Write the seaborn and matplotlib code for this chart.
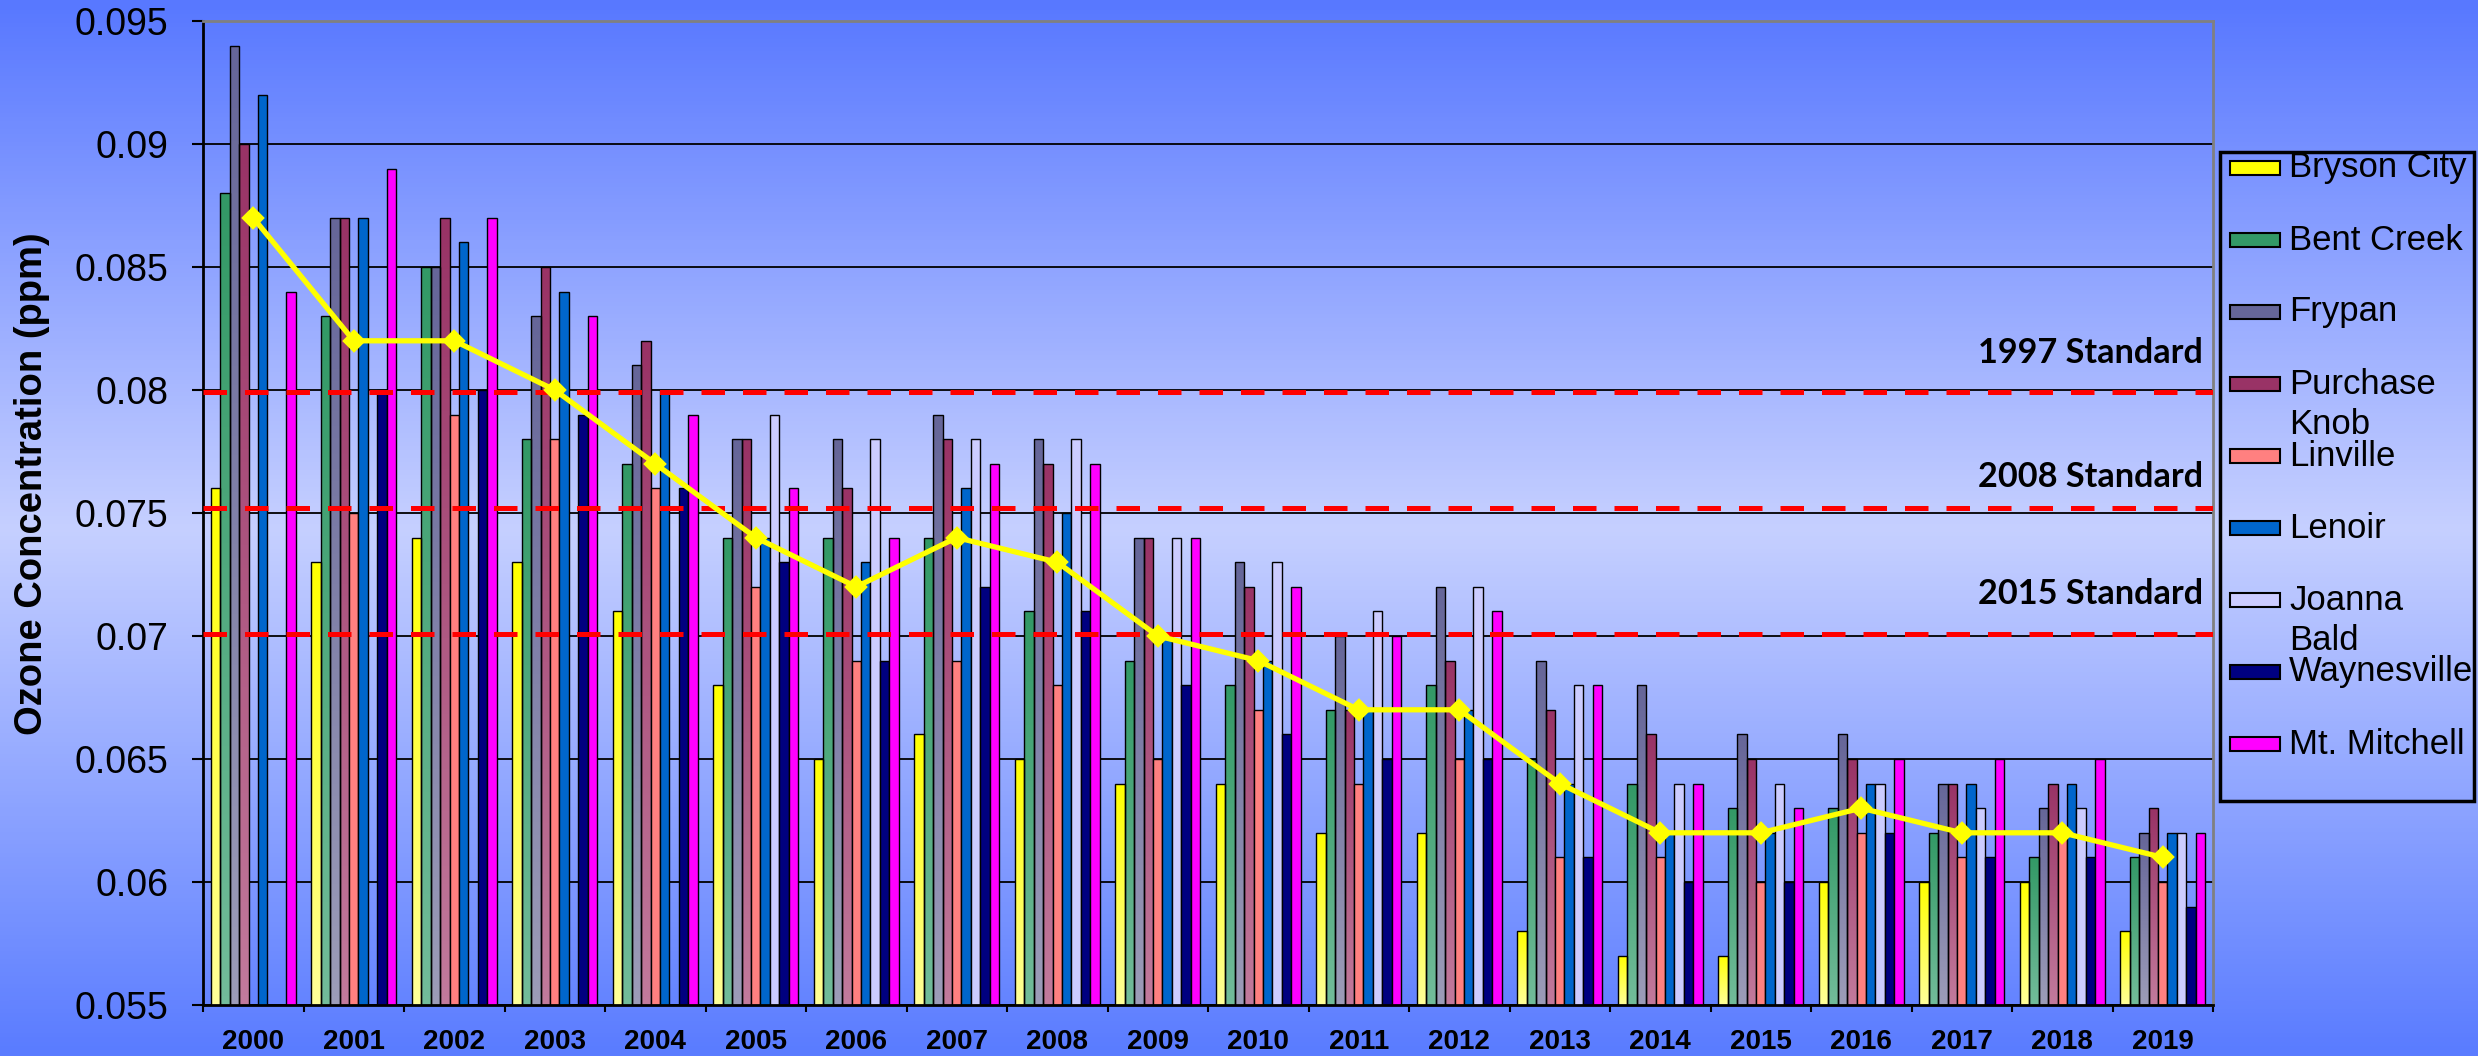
import numpy as np
import pandas as pd
import matplotlib
matplotlib.use('Agg')
import matplotlib.pyplot as plt
from matplotlib.colors import LinearSegmentedColormap
from matplotlib.patches import Rectangle
import seaborn as sns

nan = np.nan

# Annual ozone design values (ppm) by monitoring site
years = [str(y) for y in range(2000, 2020)]
sites = ['Bryson City', 'Bent Creek', 'Frypan', 'Purchase Knob', 'Linville',
         'Lenoir', 'Joanna Bald', 'Waynesville', 'Mt. Mitchell']
legend_labels = ['Bryson City', 'Bent Creek', 'Frypan', 'Purchase\nKnob', 'Linville',
                 'Lenoir', 'Joanna\nBald', 'Waynesville', 'Mt. Mitchell']

bryson_city = [0.076, 0.073, 0.074, 0.073, 0.071, 0.068, 0.065, 0.066, 0.065, 0.064,
               0.064, 0.062, 0.062, 0.058, 0.057, 0.057, 0.060, 0.060, 0.060, 0.058]
bent_creek = [0.088, 0.083, 0.085, 0.078, 0.077, 0.074, 0.074, 0.074, 0.071, 0.069,
              0.068, 0.067, 0.068, 0.065, 0.064, 0.063, 0.063, 0.062, 0.061, 0.061]
frypan = [0.094, 0.087, 0.085, 0.083, 0.081, 0.078, 0.078, 0.079, 0.078, 0.074,
          0.073, 0.070, 0.072, 0.069, 0.068, 0.066, 0.066, 0.064, 0.063, 0.062]
purchase_knob = [0.090, 0.087, 0.087, 0.085, 0.082, 0.078, 0.076, 0.078, 0.077, 0.074,
                 0.072, 0.067, 0.069, 0.067, 0.066, 0.065, 0.065, 0.064, 0.064, 0.063]
linville = [nan, 0.075, 0.079, 0.078, 0.076, 0.072, 0.069, 0.069, 0.068, 0.065,
            0.067, 0.064, 0.065, 0.061, 0.061, 0.060, 0.062, 0.061, 0.062, 0.060]
lenoir = [0.092, 0.087, 0.086, 0.084, 0.080, 0.074, 0.073, 0.076, 0.075, 0.070,
          0.069, 0.067, 0.067, 0.064, 0.062, 0.062, 0.064, 0.064, 0.064, 0.062]
joanna_bald = [nan, nan, nan, nan, nan, 0.079, 0.078, 0.078, 0.078, 0.074,
               0.073, 0.071, 0.072, 0.068, 0.064, 0.064, 0.064, 0.063, 0.063, 0.062]
waynesville = [nan, 0.080, 0.080, 0.079, 0.076, 0.073, 0.069, 0.072, 0.071, 0.068,
               0.066, 0.065, 0.065, 0.061, 0.060, 0.060, 0.062, 0.061, 0.061, 0.059]
mt_mitchell = [0.084, 0.089, 0.087, 0.083, 0.079, 0.076, 0.074, 0.077, 0.077, 0.074,
               0.072, 0.070, 0.071, 0.068, 0.064, 0.063, 0.065, 0.065, 0.065, 0.062]
average = [0.087, 0.082, 0.082, 0.080, 0.077, 0.074, 0.072, 0.074, 0.073, 0.070,
           0.069, 0.067, 0.067, 0.064, 0.062, 0.062, 0.063, 0.062, 0.062, 0.061]

standards = [0.0799, 0.0752, 0.0701]
standard_labels = ['1997 Standard', '2008 Standard', '2015 Standard']

yticks = [0.055, 0.06, 0.065, 0.07, 0.075, 0.08, 0.085, 0.09, 0.095]
ytick_labels = ['0.055', '0.06', '0.065', '0.07', '0.075', '0.08', '0.085', '0.09', '0.095']

# colours - first four series have a vertical gradient (light bottom, dark top)
colors = ['#ffff00', '#339966', '#666699', '#993366', '#ff8080',
          '#0066cc', '#ccccff', '#000080', '#ff00ff']
gradients = {0: ('#ffff99', '#ffff00'), 1: ('#72bc9a', '#339966'),
             2: ('#9c9cb8', '#666699'), 3: ('#c27a9c', '#993366')}

values = [bryson_city, bent_creek, frypan, purchase_knob, linville,
          lenoir, joanna_bald, waynesville, mt_mitchell]
df = pd.DataFrame({
    'Year': np.tile(years, len(sites)),
    'Site': np.repeat(sites, len(years)),
    'Ozone': np.concatenate(values),
}).dropna()
avg_df = pd.DataFrame({'Year': years, 'Average': average})

W, H = 2478, 1056
fig = plt.figure(figsize=(W / 100, H / 100), dpi=100)
renderer = fig.canvas.get_renderer()


def fit(text, target, vertical=False):
    # scale font so the drawn text spans `target` pixels
    bb = text.get_window_extent(renderer)
    size = bb.height if vertical else bb.width
    text.set_fontsize(text.get_fontsize() * target / size)


# blue gradient background over the whole figure
bg = fig.add_axes([0, 0, 1, 1], zorder=-10)
bg_cmap = LinearSegmentedColormap.from_list('bg', ['#5878ff', '#c6d0ff', '#5a7cff'])
bg.imshow(np.linspace(0, 1, 256).reshape(-1, 1), cmap=bg_cmap, aspect='auto',
          extent=[0, 1, 0, 1], interpolation='bilinear')
bg.axis('off')

ax = fig.add_axes([203 / W, 51 / H, 2010 / W, 984 / H])
ax.set_facecolor('none')

sns.barplot(data=df, x='Year', y='Ozone', hue='Site', hue_order=sites, order=years,
            palette=colors, saturation=1, width=0.85, edgecolor='black', linewidth=1,
            errorbar=None, legend=False, ax=ax)

ymin, ymax = 0.055, 0.095
ax.set_autoscale_on(False)
ramp = np.linspace(0, 1, 64).reshape(-1, 1)
for i, (low, high) in gradients.items():
    cmap = LinearSegmentedColormap.from_list(sites[i], [low, high])
    for bar in ax.containers[i]:
        h = bar.get_height()
        if not np.isfinite(h):
            continue
        x0, w = bar.get_x(), bar.get_width()
        im = ax.imshow(ramp, cmap=cmap, origin='lower', aspect='auto',
                       extent=(x0, x0 + w, ymin, h), interpolation='bilinear',
                       zorder=bar.get_zorder() - 0.05)
        im.set_clip_path(bar)
        bar.set_facecolor('none')

# standards
for y, label, off in zip(standards, standard_labels, [21, 15.5, 21]):
    ax.axhline(y, color='#ff0000', lw=3.6, ls=(0, (4.7, 3.6)), zorder=3)
    t = ax.annotate(label, xy=(0.995, y), xycoords=('axes fraction', 'data'),
                    xytext=(0, off), textcoords='offset points', ha='right',
                    va='baseline', fontsize=24, fontweight='bold', family='Lato',
                    color='black')
    fit(t, 225)

# average line
n_lines = len(ax.lines)
sns.pointplot(data=avg_df, x='Year', y='Average', order=years, color='#ffff00',
              markers='D', markersize=9, linewidth=3.8, errorbar=None, ax=ax)
for line in ax.lines[n_lines:]:
    line.set_zorder(6)

ax.set_xlim(-0.5, len(years) - 0.5)
ax.set_ylim(ymin, ymax)
ax.set_yticks(yticks)
ax.set_yticklabels(ytick_labels, fontsize=27, family='Liberation Sans')
ax.set_xticks(range(len(years)))
ax.set_xticklabels(years, fontsize=20, fontweight='bold', family='Liberation Sans')
ax.set_xticks(np.arange(-0.5, len(years)), minor=True)
ax.tick_params(axis='x', which='major', length=0, pad=17)
ax.tick_params(axis='x', which='minor', length=5, width=1.5, direction='out')
ax.tick_params(axis='y', which='major', length=8, width=1.5, direction='out', pad=17)

ax.set_axisbelow(True)
ax.yaxis.grid(True, color='black', lw=1.3)
ax.xaxis.grid(False)
for side in ['left', 'bottom']:
    ax.spines[side].set_color('black')
    ax.spines[side].set_linewidth(2)
for side in ['top', 'right']:
    ax.spines[side].set_color('#808080')
    ax.spines[side].set_linewidth(2)

ax.set_xlabel('')
ylab = ax.set_ylabel('Ozone Concentration (ppm)', fontsize=27.5, fontweight='bold',
                     family='Liberation Sans')
fit(ylab, 502, vertical=True)
ax.yaxis.set_label_coords(-0.0761, 0.5295)

# legend box (Excel-style fixed row spacing)
fig.add_artist(Rectangle((2220 / W, 1 - 801 / H), 254 / W, 649 / H,
                         transform=fig.transFigure, facecolor='none',
                         edgecolor='black', lw=2.5))
row_y = 168
for color, label in zip(colors, legend_labels):
    fig.add_artist(Rectangle((2230 / W, 1 - (row_y + 7) / H), 50 / W, 14 / H,
                             transform=fig.transFigure, facecolor=color,
                             edgecolor='black', lw=1.5))
    for k, part in enumerate(label.split('\n')):
        fig.text(2289 / W, 1 - (row_y + 40 * k) / H, part, fontsize=25,
                 family='Liberation Sans', va='center', ha='left')
    row_y += 72

fig.savefig('out.png', dpi=100)
